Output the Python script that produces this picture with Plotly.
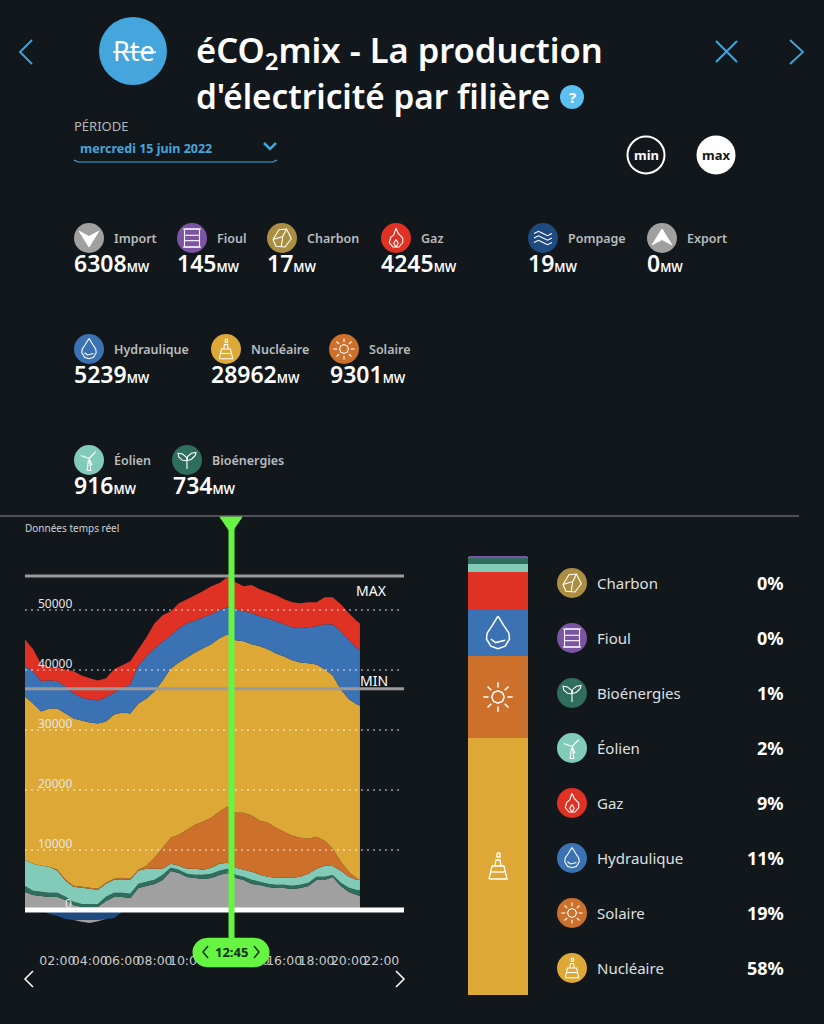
import plotly.graph_objects as go

# chart values (MW)
hours = [0, 0.5, 1, 1.5, 2, 2.5, 3, 3.5, 4, 4.5, 5, 5.5, 6, 6.5, 7, 7.5, 8, 8.5, 9, 9.5, 10, 10.5, 11, 11.5, 12, 12.5,
         13, 13.5, 14, 14.5, 15, 15.5, 16, 16.5, 17, 17.5, 18, 18.5, 19, 19.5, 20, 20.5, 20.68]
import_mw = [3000, 2500, 2340, 2170, 2170, 1670, 840, 500, 500, 500, 1500, 2170, 2170, 2000, 3670, 4010, 4340, 5010, 6510, 6180,
             5510, 5340, 5180, 5340, 5850, 6180, 5340, 5010, 4340, 4180, 3840, 3670, 3670, 3510, 3670, 4010, 5010, 5010, 5510, 4010,
             3010, 2500, 2340]
bio_mw = [1000, 700, 700, 700, 700, 520, 520, 520, 520, 520, 700, 700, 700, 700, 700, 700, 700, 850, 520, 520,
          520, 520, 700, 700, 700, 700, 520, 520, 700, 520, 520, 520, 520, 520, 520, 520, 520, 520, 340, 520,
          700, 850, 1000]
eolien_mw = [4340, 4510, 4340, 4340, 3670, 2670, 2510, 2670, 2510, 2340, 2170, 2170, 2170, 2340, 2170, 2170, 1840, 1000, 670, 670,
             840, 1000, 840, 1000, 1170, 1000, 1170, 1170, 1340, 1170, 1170, 1170, 1170, 1340, 1340, 1500, 1340, 1840, 1500, 2000,
             1840, 1670, 1670]
solaire_mw = [0, 0, 0, 0, 170, 170, 170, 170, 170, 170, 170, 170, 330, 170, 170, 500, 1840, 3510, 4340, 5180,
              6510, 7350, 8020, 8350, 8680, 9350, 9190, 9520, 9350, 9020, 9020, 8350, 7680, 7010, 6510, 5850, 5340, 4180, 2840, 1500,
              840, 170, 0]
nucleaire_mw = [27220, 26720, 25720, 26390, 26890, 27720, 27890, 27720, 27560, 27560, 26890, 27390, 27560, 27560, 27720, 27890, 27720, 27890, 28220, 28720,
                28720, 28720, 28890, 28890, 28890, 28720, 28720, 28560, 28560, 29060, 28890, 29060, 29230, 29230, 29230, 29230, 28720, 28560, 28890, 28720,
                28720, 29060, 29060]
hydro_mw = [5180, 5340, 5010, 4680, 4510, 4510, 4180, 3840, 3840, 3840, 4010, 3670, 4010, 4840, 6350, 7010, 7180, 6510, 5510, 5680,
            5680, 5340, 5180, 5010, 4680, 4510, 5180, 5010, 5180, 5010, 5180, 5340, 5340, 5510, 5680, 6010, 6350, 7520, 8520, 9690,
            9850, 9350, 9190]
gaz_mw = [4340, 3670, 2840, 2170, 2340, 2840, 3670, 3670, 3510, 3340, 3170, 3840, 3840, 3840, 2670, 3170, 4180, 4340, 4010, 4180,
          4010, 4180, 4340, 4680, 4510, 5010, 4510, 4180, 4680, 4510, 4340, 4340, 4180, 4180, 4180, 4180, 4010, 4510, 4510, 4510,
          4510, 4510, 4510]
pompage_mw = [0, 0, 0, -650, -1000, -1500, -1670, -1670, -1670, -1670, -1500, -1340, -340, 0] + [0] * 29
export_mw = [0, 0, 0, 0, 0, 0, 0, -300, -500, -200] + [0] * 33

time_ticks = [2, 4, 6, 8, 10, 12, 14, 16, 18, 20, 22]
time_labels = ["02:00", "04:00", "06:00", "08:00", "10:00", "12:00", "14:00", "16:00", "18:00", "20:00", "22:00"]
mw_ticks = [0, 10000, 20000, 30000, 40000, 50000]
max_mw = 55670
min_mw = 36880
cursor_hour = 12.75

bar_names = ["Nucléaire", "Solaire", "Hydraulique", "Gaz", "Éolien", "Bioénergies", "Charbon", "Fioul"]
bar_values = [28962, 9301, 5239, 4245, 916, 734, 17, 145]
legend_names = ["Charbon", "Fioul", "Bioénergies", "Éolien", "Gaz", "Hydraulique", "Solaire", "Nucléaire"]
legend_pct = ["0%", "0%", "1%", "2%", "9%", "11%", "19%", "58%"]

BG = "#12171c"
BLUE = "#45a5dd"
GREEN = "#66f542"
COLORS = {"Import": "#a0a0a0", "Fioul": "#7b55a3", "Charbon": "#ab8e41", "Gaz": "#e03224", "Pompage": "#1f4a80",
          "Export": "#a0a0a0", "Hydraulique": "#3b72b3", "Nucléaire": "#dda836", "Solaire": "#cc702c",
          "Éolien": "#82cbb9", "Bioénergies": "#2f6e5c"}
FONT = "Noto Sans"

W, H = 824, 1024
shapes = []
notes = []


def px(x):
    return x / W


def py(y):
    return 1 - y / H


def text(x, y, s, size=14, color="white", anchor="left", weight=400, family=FONT):
    notes.append(dict(x=px(x), y=py(y), xref="paper", yref="paper", text=s, showarrow=False, xanchor=anchor, yanchor="middle",
                      borderpad=0, font=dict(size=size, color=color, family=family, weight=weight)))


def poly(points, color="white", width=1.2, fill=None, close=False):
    d = "M " + " L ".join(f"{px(a):.5f} {py(b):.5f}" for a, b in points)
    if close:
        d += " Z"
    shapes.append(dict(type="path", path=d, xref="paper", yref="paper", fillcolor=fill or "rgba(0,0,0,0)",
                       line=dict(color=color, width=width), layer="above"))


def disc(cx, cy, r, fill, line=None, width=0):
    shapes.append(dict(type="circle", xref="paper", yref="paper", x0=px(cx - r), x1=px(cx + r), y0=py(cy + r), y1=py(cy - r),
                       fillcolor=fill, line=dict(color=line or fill, width=width), layer="above"))


GLYPHS = {
    "Fioul": [[(-.5, -.6), (.5, -.6), (.5, .6), (-.5, .6), (-.5, -.6)], [(-.6, -.6), (.6, -.6)], [(-.6, .6), (.6, .6)],
              [(-.5, -.18), (.5, -.18)], [(-.5, .18), (.5, .18)]],
    "Charbon": [[(-.6, .1), (-.2, -.55), (.3, -.6), (.62, .05), (.2, .6), (-.4, .55), (-.6, .1)],
                [(-.6, .1), (.05, -.1), (.3, -.6)], [(.05, -.1), (-.05, .58)]],
    "Gaz": [[(0, -.65), (.15, -.3), (.45, 0), (.45, .3), (.2, .6), (-.2, .6), (-.45, .3), (-.35, -.05), (-.15, -.2), (0, -.65)],
            [(0, .1), (.15, .35), (0, .6), (-.15, .35), (0, .1)]],
    "Pompage": [[(-.6, -.3), (-.3, -.45), (0, -.3), (.3, -.15), (.6, -.3)], [(-.6, 0), (-.3, -.15), (0, 0), (.3, .15), (.6, 0)],
                [(-.6, .3), (-.3, .15), (0, .3), (.3, .45), (.6, .3)]],
    "Hydraulique": [[(0, -.7), (.25, -.3), (.45, 0), (.48, .25), (.3, .55), (0, .65), (-.3, .55), (-.48, .25), (-.45, 0), (-.25, -.3), (0, -.7)],
                    [(-.3, .25), (-.1, .4), (.3, .3)]],
    "Nucléaire": [[(-.45, .65), (-.3, 0), (.3, 0), (.45, .65), (-.45, .65)], [(-.15, 0), (-.1, -.3), (.1, -.3), (.15, 0)],
                  [(-.05, -.65), (.1, -.65), (.1, -.45), (-.05, -.45), (-.05, -.65)], [(-.36, .3), (.36, .3)]],
    "Solaire": [[(.3, 0), (.21, .21), (0, .3), (-.21, .21), (-.3, 0), (-.21, -.21), (0, -.3), (.21, -.21), (.3, 0)],
                [(.45, 0), (.7, 0)], [(-.45, 0), (-.7, 0)], [(0, .45), (0, .7)], [(0, -.45), (0, -.7)],
                [(.32, .32), (.5, .5)], [(-.32, .32), (-.5, .5)], [(.32, -.32), (.5, -.5)], [(-.32, -.32), (-.5, -.5)]],
    "Éolien": [[(0, -.1), (.45, -.55)], [(0, -.1), (-.55, -.3)], [(0, -.1), (.2, .35)], [(-.04, 0), (-.12, .7), (.12, .7), (.04, 0)]],
    "Bioénergies": [[(0, .6), (0, .05)], [(0, .05), (-.3, .02), (-.55, -.2), (-.6, -.45), (-.3, -.4), (-.05, -.2), (0, .05)],
                    [(0, .05), (.3, -.05), (.55, -.3), (.6, -.5), (.3, -.45), (.05, -.25), (0, .05)]],
}


def glyph(name, cx, cy, r, width=1.1):
    for line in GLYPHS.get(name, []):
        poly([(cx + a * r, cy + b * r) for a, b in line], width=width)


def icon(name, cx, cy, r=15):
    disc(cx, cy, r, COLORS[name])
    if name == "Import":
        poly([(cx - .65 * r, cy - .45 * r), (cx, cy - .1 * r), (cx + .65 * r, cy - .45 * r), (cx, cy + .6 * r)], fill="white", close=True, width=1)
    elif name == "Export":
        poly([(cx - .65 * r, cy + .45 * r), (cx, cy + .1 * r), (cx + .65 * r, cy + .45 * r), (cx, cy - .6 * r)], fill="white", close=True, width=1)
    else:
        glyph(name, cx, cy, r)


def stat(name, cx, cy, value, value_x):
    icon(name, cx, cy)
    text(cx + 24, cy, name, size=12.5, color="#b9bcbe", weight=600)
    text(value_x - 1, cy + 25, f"{value}<span style='font-size:12px'>MW</span>", size=23, weight=600)


fig = go.Figure()
stack = [("Import", import_mw, "#a0a0a0"), ("Bioénergies", bio_mw, COLORS["Bioénergies"]), ("Éolien", eolien_mw, COLORS["Éolien"]),
         ("Solaire", solaire_mw, COLORS["Solaire"]), ("Nucléaire", nucleaire_mw, COLORS["Nucléaire"]),
         ("Hydraulique", hydro_mw, COLORS["Hydraulique"]), ("Gaz", gaz_mw, COLORS["Gaz"])]
for name, vals, col in stack:
    fig.add_trace(go.Scatter(x=hours, y=vals, name=name, stackgroup="pos", mode="none", fillcolor=col))
fig.add_trace(go.Scatter(x=hours, y=pompage_mw, name="Pompage", stackgroup="neg", mode="none", fillcolor=COLORS["Pompage"]))
fig.add_trace(go.Scatter(x=hours, y=export_mw, name="Export", stackgroup="neg", mode="none", fillcolor="#a0a0a0"))

for name, val in zip(bar_names, bar_values):
    fig.add_trace(go.Bar(x=["mix"], y=[val], name=name, marker=dict(color=COLORS[name], line=dict(width=0)), width=1,
                         xaxis="x2", yaxis="y2"))

# grid, max/min and zero lines sit on top of the areas
for v in mw_ticks[1:]:
    shapes.append(dict(type="line", xref="x", yref="y", x0=0, x1=23.1, y0=v, y1=v, layer="above",
                       line=dict(color="rgba(255,255,255,0.85)", width=1.2, dash="2px,4px")))
    notes.append(dict(x=3.05, y=v, xref="x", yref="y", text=str(v), showarrow=False, xanchor="right", yanchor="middle", yshift=7,
                      font=dict(size=12, color="#e6e6e6", family=FONT)))
notes.append(dict(x=3.05, y=0, xref="x", yref="y", text="0", showarrow=False, xanchor="right", yanchor="middle", yshift=7,
                  font=dict(size=12, color="#e6e6e6", family=FONT)))
for v in [max_mw, min_mw]:
    shapes.append(dict(type="line", xref="x", yref="y", x0=0, x1=23.4, y0=v, y1=v, layer="above", line=dict(color="#9a9a9a", width=3)))
shapes.append(dict(type="line", xref="x", yref="y", x0=0, x1=23.4, y0=0, y1=0, layer="above", line=dict(color="white", width=5)))
text(371, 590, "MAX", size=14, color="white", anchor="center")
text(374, 680, "MIN", size=14, color="white", anchor="center")

# cursor
shapes.append(dict(type="line", xref="x", yref="paper", x0=cursor_hour, x1=cursor_hour, y0=py(945), y1=py(520), layer="above",
                   line=dict(color=GREEN, width=6)))
poly([(220, 517), (242, 517), (231, 533)], color=GREEN, fill=GREEN, close=True, width=1)
disc(207, 952.5, 14.5, GREEN)
disc(255, 952.5, 14.5, GREEN)
poly([(207, 938), (255, 938), (255, 967), (207, 967)], color=GREEN, fill=GREEN, close=True, width=0.5)
poly([(208, 946), (203, 952), (208, 958)], color="#12301a", width=1.5)
poly([(254, 946), (259, 952), (254, 958)], color="#12301a", width=1.5)
text(231, 952, "<b>12:45</b>", size=13, color="#12301a", anchor="center")

# header
poly([(32, 40), (20, 52), (32, 64)], color=BLUE, width=1.8)
poly([(790, 40), (803, 52), (790, 64)], color=BLUE, width=1.8)
poly([(716, 41), (737, 62)], color=BLUE, width=2)
poly([(737, 41), (716, 62)], color=BLUE, width=2)
disc(133, 51, 34, BLUE)
text(134, 50, "Rte", size=27, anchor="center")
poly([(113, 52), (156, 52)], color="white", width=1.5)
text(195, 51, "éCO<sub>2</sub>mix - La production", size=34.5, weight=600)
text(195, 96, "d'électricité par filière", size=33.3, weight=600)
disc(572, 97, 12, "#5bc0f0")
text(572, 97, "<b>?</b>", size=15, anchor="center")

text(73, 126, "PÉRIODE", size=13, color="#b4b7b9")
text(79, 148, "<b>mercredi 15 juin 2022</b>", size=12.5, color=BLUE)
poly([(74, 160), (78, 162), (273, 162), (277, 160)], color=BLUE, width=1.2)
poly([(264, 143), (270, 149), (276, 143)], color=BLUE, width=2.5)
disc(646, 155, 18.5, BG, line="white", width=2)
text(646, 155, "<b>min</b>", size=13, anchor="center")
disc(716, 155, 19.5, "white")
text(716, 155, "<b>max</b>", size=13, color=BG, anchor="center")

# live figures
stat("Import", 89, 238, 6308, 74)
stat("Fioul", 192, 238, 145, 177)
stat("Charbon", 282, 238, 17, 267)
stat("Gaz", 396, 238, 4245, 381)
stat("Pompage", 543, 238, 19, 528)
stat("Export", 662, 238, 0, 647)
stat("Hydraulique", 89, 349, 5239, 74)
stat("Nucléaire", 226, 349, 28962, 211)
stat("Solaire", 344, 349, 9301, 330)
stat("Éolien", 89, 460, 916, 74)
stat("Bioénergies", 187, 460, 734, 173)

poly([(0, 516), (799, 516)], color="#8a8d90", width=1)
text(24, 528, "Données temps réel", size=10, color="#d0d2d4")
poly([(33, 971), (25, 979), (33, 987)], color="white", width=1.5)
poly([(396, 971), (404, 979), (396, 987)], color="white", width=1.5)

# right column
glyph("Hydraulique", 498, 633, 24, width=1.5)
glyph("Solaire", 498, 697, 21, width=1.5)
glyph("Nucléaire", 498, 866, 20, width=1.3)
for name, pct, y in zip(legend_names, legend_pct, [583, 638, 693, 748, 803, 858, 913, 968]):
    icon(name, 572, y)
    text(596, y, name, size=15, color="#dfe0e1")
    text(785, y, f"<b>{pct}</b>", size=18, anchor="right")

fig.update_layout(
    width=W, height=H, margin=dict(l=0, r=0, t=0, b=0), paper_bgcolor=BG, plot_bgcolor=BG, showlegend=False,
    barmode="stack", barcornerradius=3, shapes=shapes, annotations=notes,
    xaxis=dict(domain=[px(25), px(404)], range=[0, 23.4], tickmode="array", tickvals=time_ticks, ticktext=time_labels,
               tickfont=dict(family="DejaVu Sans", size=12.5, color="#c8c9ca"), ticks="outside", ticklen=24, tickcolor="rgba(0,0,0,0)",
               tickangle=0, showgrid=False, zeroline=False, showline=False),
    yaxis=dict(domain=[py(925), py(520)], range=[-2500, 65000], showticklabels=False, showgrid=False, zeroline=False, ticks=""),
    xaxis2=dict(domain=[px(468), px(528)], anchor="y2", showticklabels=False, showgrid=False, zeroline=False, ticks=""),
    yaxis2=dict(domain=[py(995), py(556)], anchor="x2", range=[0, sum(bar_values)], showticklabels=False, showgrid=False,
                zeroline=False, ticks=""),
)

# no body margin, otherwise the page scrolls and the plot gets squeezed
fig.write_html("out.html", config={"responsive": False, "displayModeBar": False},
               post_script="document.body.style.margin='0';document.body.style.background='" + BG + "';")
